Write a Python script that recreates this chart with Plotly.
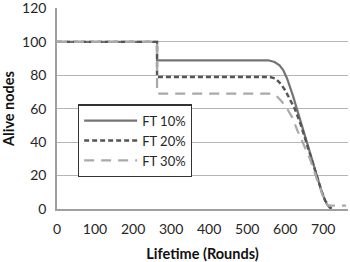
import plotly.graph_objects as go

# Data
ft10_x = [0, 263, 263, 555, 572, 585, 595, 605, 620, 640, 660, 680, 695, 705, 712, 720]
ft10_y = [100, 100, 89, 89, 88, 86, 83, 78, 68, 53, 38, 22, 11, 5, 2, 0]
ft20_x = [0, 263, 263, 560, 575, 588, 600, 612, 625, 640, 660, 680, 695, 705, 715, 722]
ft20_y = [100, 100, 79, 79, 78, 75, 71, 66, 60, 51, 37, 22, 11, 5, 2, 0]
ft30_x = [0, 263, 263, 565, 580, 592, 605, 618, 632, 650, 665, 680, 695, 705, 712, 760]
ft30_y = [100, 100, 69, 69, 67, 64, 60, 55, 47, 38, 30, 20, 10, 4, 2, 2]

names = ["FT 10%", "FT 20%", "FT 30%"]
colors = ["#747474", "#555555", "#a9a9a9"]
dashes = ["solid", "5px,3px", "10px,7px"]
widths = [2.2, 2.4, 2.2]

y_ticks = [0, 20, 40, 60, 80, 100, 120]
x_ticks = [0, 100, 200, 300, 400, 500, 600, 700]

fig = go.Figure()
for xs, ys, n, c, d, w in zip([ft10_x, ft20_x, ft30_x], [ft10_y, ft20_y, ft30_y], names, colors, dashes, widths):
    fig.add_trace(go.Scatter(x=xs, y=ys, mode="lines", name=n,
                             line=dict(color=c, dash=d, width=w)))

font_family = "Lato, 'Open Sans', sans-serif"
fig.update_layout(
    width=350, height=262,
    margin=dict(l=57, r=2, t=8, b=53),
    paper_bgcolor="white", plot_bgcolor="white",
    font=dict(family=font_family, size=14, color="#262626"),
    showlegend=True,
    legend=dict(x=0.072, y=0.52, xanchor="left", yanchor="top",
                bordercolor="#333333", borderwidth=1.2, bgcolor="white",
                font=dict(size=13, color="#262626"),
                itemwidth=53, entrywidth=123, entrywidthmode="pixels"),
    xaxis=dict(range=[0, 765], tickvals=x_ticks, showgrid=False, automargin=False,
               showline=True, linecolor="#a0a0a0", linewidth=1.5,
               ticks="", zeroline=False, ticklabelstandoff=6,
               title=dict(text="<b>Lifetime (Rounds)</b>", standoff=14,
                          font=dict(size=14.5, color="#111111"))),
    yaxis=dict(range=[0, 120.3], tickvals=y_ticks, showgrid=True, automargin=False,
               gridcolor="#b5b5b5", gridwidth=1.2, ticklabeloverflow="allow",
               showline=True, linecolor="#a0a0a0", linewidth=1.5,
               ticks="", zeroline=False, ticklabelstandoff=6,
               title=dict(text="<b>Alive nodes</b>", standoff=6,
                          font=dict(size=14.5, color="#111111"))),
)
fig.write_html("out.html")
